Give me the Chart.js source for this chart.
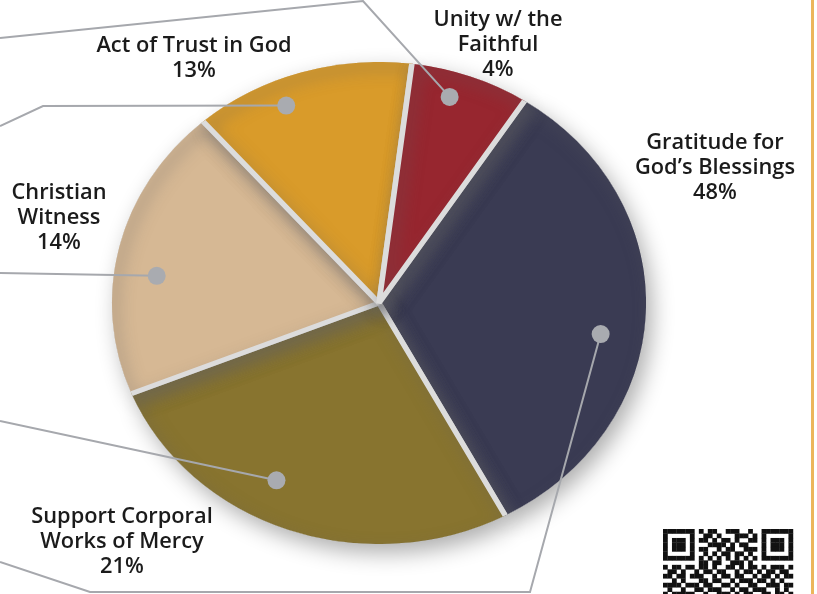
<!DOCTYPE html>
<html>
<head>
<meta charset="utf-8">
<script src="https://cdn.jsdelivr.net/npm/chart.js@4.4.2/dist/chart.umd.min.js"></script>
<style>
  html, body { margin: 0; padding: 0; background: #fff; }
  #wrap { position: relative; width: 817px; height: 594px; overflow: hidden; }
  #wrap canvas { position: absolute; left: 0; top: 0; }
</style>
</head>
<body>
<div id="wrap">
  <canvas id="pieBase" width="817" height="594"></canvas>
  <canvas id="pie" width="817" height="594"></canvas>
</div>
<script>
const categories = [
  ['Gratitude for', 'God’s Blessings'],
  ['Support Corporal', 'Works of Mercy'],
  ['Christian', 'Witness'],
  ['Act of Trust in God'],
  ['Unity w/ the', 'Faithful']
];
const percentLabels = ['48%', '21%', '14%', '13%', '4%'];
// slice sizes as they are drawn in the picture (the artwork does not follow the printed %)
const sliceShares = [33.0, 26.7, 19.7, 13.4, 7.2];
const sliceColors = ['#3a3b53', '#88742f', '#d6b894', '#d99b2a', '#97262f'];

// layout bits
const ELLIPSE_X = 1.108;
const PIE_R = 241;
const GAP = 5;
const labelPos = [[715, 143], [122, 517], [59, 193], [194, 46], [498, 20]];
const dotAt = [[0.554, 0.84], [0.58, 0.83], [0.42, 0.84], [0.377, 0.89], [0.39, 0.895]];
const leaderPaths = [
  [[530, 592], [90, 592], [0, 562]],
  [[0, 421]],
  [[0, 273]],
  [[43, 106], [0, 126]],
  [[363, 1], [0, 38]]
];
const qrRows = [
  '11111110101100111001001111111',
  '10000010011010001110101000001',
  '10111010110101101001101011101',
  '10111010001111010110001011101',
  '10111010110010110011101011101',
  '10000010010101101101001000001',
  '11111110101010101010101111111',
  '00000000110110011101000000000',
  '10110110110100110101101011101',
  '01101001011011001011010110110',
  '11011011100101101100101101011',
  '00101000110110010111011010100',
  '11110111011001101001100111011',
  '01001001101110010110111001010',
  '10111110010011101011001101101'
];

// squash the round pie into the wide ellipse of the artwork, with a shadow
const ellipsePlugin = (id, shadow, clipR) => ({
  id,
  beforeDatasetsDraw(chart) {
    const ctx = chart.ctx;
    const arc = chart.getDatasetMeta(0).data[0];
    ctx.save();
    ctx.translate(arc.x, 0);
    ctx.scale(ELLIPSE_X, 1);
    ctx.translate(-arc.x, 0);
    if (clipR) {
      ctx.beginPath();
      ctx.arc(arc.x, arc.y, clipR, 0, Math.PI * 2);
      ctx.clip();
    }
    Object.assign(ctx, shadow);
  },
  afterDatasetsDraw(chart) {
    chart.ctx.restore();
  }
});

const annotatePlugin = {
  id: 'annotate',
  afterDraw(chart) {
    const ctx = chart.ctx;
    const arcs = chart.getDatasetMeta(0).data;
    ctx.save();
    arcs.forEach((arc, i) => {
      const [t, rf] = dotAt[i];
      const a = arc.startAngle + (arc.endAngle - arc.startAngle) * t;
      const r = PIE_R * rf;
      const px = arc.x + Math.cos(a) * r * ELLIPSE_X;
      const py = arc.y + Math.sin(a) * r;
      ctx.strokeStyle = '#a6a8ad';
      ctx.lineWidth = 2;
      ctx.beginPath();
      ctx.moveTo(px, py);
      leaderPaths[i].forEach(([x, y]) => ctx.lineTo(x, y));
      ctx.stroke();
      ctx.fillStyle = '#a9abb0';
      ctx.beginPath();
      ctx.arc(px, py, 9, 0, Math.PI * 2);
      ctx.fill();

      const lines = [...categories[i], percentLabels[i]];
      ctx.fillStyle = '#1b1b1b';
      ctx.font = '600 21.8px "Open Sans"';
      ctx.textAlign = 'center';
      ctx.textBaseline = 'middle';
      lines.forEach((txt, k) => ctx.fillText(txt, labelPos[i][0], labelPos[i][1] + k * 25));
    });

    // orange rule on the right
    ctx.fillStyle = '#ecb65b';
    ctx.fillRect(811, 0, 3, 594);

    // qr code corner
    const m = 4.48;
    ctx.fillStyle = '#111';
    qrRows.forEach((row, ry) => {
      for (let cx = 0; cx < row.length; cx++) {
        if (row[cx] === '1') ctx.fillRect(663 + cx * m, 529 + ry * m, m + 0.3, m + 0.3);
      }
    });
    ctx.restore();
  }
};

const baseOptions = {
  responsive: false,
  animation: false,
  events: [],
  rotation: 33.0,
  layout: {
    padding: { left: 0, right: 59, top: 20, bottom: 8 }
  },
  plugins: {
    legend: { display: false },
    tooltip: { enabled: false }
  }
};

// bottom layer: plain slices that throw the drop shadow
new Chart(document.getElementById('pieBase'), {
  type: 'pie',
  data: {
    labels: categories,
    datasets: [{
      data: sliceShares,
      backgroundColor: sliceColors,
      borderWidth: 0,
      radius: PIE_R
    }]
  },
  options: baseOptions,
  plugins: [ellipsePlugin('ellipseBase', {
    shadowColor: 'rgba(0,0,0,0.32)', shadowBlur: 22, shadowOffsetX: 6, shadowOffsetY: 9
  })]
});

// top layer: slices with the light gaps, clipped so the rim has no border
new Chart(document.getElementById('pie'), {
  type: 'pie',
  data: {
    labels: categories,
    datasets: [{
      data: sliceShares,
      backgroundColor: sliceColors,
      borderColor: '#dcdcdc',
      borderWidth: GAP,
      radius: PIE_R + GAP / 2
    }]
  },
  options: baseOptions,
  plugins: [
    ellipsePlugin('ellipseTop', {
      shadowColor: 'rgba(95,95,100,0.5)', shadowBlur: 16, shadowOffsetX: 5, shadowOffsetY: 7
    }, PIE_R),
    annotatePlugin
  ]
});
</script>
</body>
</html>
